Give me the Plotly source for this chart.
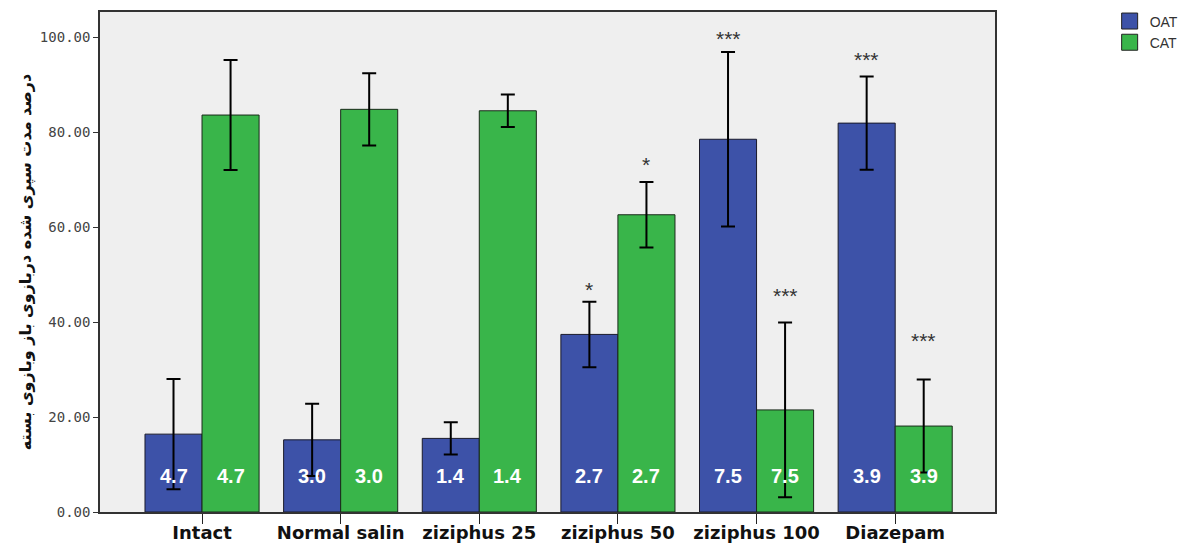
import plotly.graph_objects as go

# Groups and measured series (% of time spent in open / closed arms)
groups = ["Intact", "Normal salin", "ziziphus 25", "ziziphus 50", "ziziphus 100", "Diazepam"]
oat = [16.4, 15.2, 15.5, 37.4, 78.5, 81.9]
cat = [83.6, 84.8, 84.5, 62.6, 21.5, 18.1]
err = [11.6, 7.6, 3.4, 6.9, 18.4, 9.8]
se_labels = ["4.7", "3.0", "1.4", "2.7", "7.5", "3.9"]

# Significance marks: (group, series, text)
sig_marks = [
    ("ziziphus 50", "OAT", "*"),
    ("ziziphus 50", "CAT", "*"),
    ("ziziphus 100", "OAT", "***"),
    ("ziziphus 100", "CAT", "***"),
    ("Diazepam", "OAT", "***"),
    ("Diazepam", "CAT", "***"),
]
sig_y = [46.9, 73.1, 99.8, 45.5, 95.2, 36.2]

BLUE = "#3d52a8"
GREEN = "#39b54a"
BAR_HALF = 28.5  # pixel offset from group centre to each bar centre

fig = go.Figure()
for name, vals, col, edge in (("OAT", oat, BLUE, "#1a1a2a"), ("CAT", cat, GREEN, "#1a2a1a")):
    fig.add_trace(go.Bar(
        name=name, x=groups, y=vals, showlegend=False,
        marker=dict(color=col, line=dict(color=edge, width=1)),
        error_y=dict(type="data", array=err, color="black", thickness=2, width=7),
    ))
# Legend keys drawn as larger outlined squares
for name, col in (("OAT", BLUE), ("CAT", GREEN)):
    fig.add_trace(go.Scatter(
        name=name, x=[None], y=[None], mode="markers",
        marker=dict(symbol="square", size=16, color=col, line=dict(color="#222222", width=1)),
    ))

annotations = []
for g, lab in zip(groups, se_labels):
    for shift in (-BAR_HALF, BAR_HALF):
        annotations.append(dict(
            x=g, y=7.5, xref="x", yref="y", xshift=shift, text=lab,
            showarrow=False, yanchor="middle",
            font=dict(family="Liberation Sans, Arial", size=20, color="white", weight="bold"),
        ))
for (g, series, txt), yv in zip(sig_marks, sig_y):
    annotations.append(dict(
        x=g, y=yv, xref="x", yref="y",
        xshift=-BAR_HALF if series == "OAT" else BAR_HALF,
        text=txt, showarrow=False, yanchor="middle",
        font=dict(family="Liberation Sans, Arial", size=21, color="#333333"),
    ))

fig.update_layout(
    width=1183, height=544,
    margin=dict(l=100, r=188, t=12, b=32, autoexpand=False),
    barmode="group", bargap=0.177, bargroupgap=0,
    plot_bgcolor="#efefef", paper_bgcolor="white",
    annotations=annotations,
    legend=dict(
        xref="container", yref="container",
        x=0.938, y=0.99, xanchor="left", yanchor="top",
        font=dict(family="Liberation Sans, Arial", size=14, color="#333333"),
        tracegroupgap=0, itemwidth=30,
    ),
    xaxis=dict(
        type="category", range=[-0.736, 5.72], automargin=False,
        showline=True, linecolor="#333333", linewidth=1.5, mirror=True,
        ticks="outside", ticklen=10, tickcolor="#222222", tickwidth=1.2,
        ticklabelstandoff=-6,
        tickfont=dict(family="DejaVu Sans", size=18, color="#111111", weight="bold"),
        showgrid=False,
    ),
    yaxis=dict(
        range=[0, 105.3], automargin=False,
        tickvals=[0, 20, 40, 60, 80, 100], tickformat=".2f",
        showline=True, linecolor="#333333", linewidth=1.5, mirror=True,
        ticks="outside", ticklen=5, tickcolor="#333333",
        tickfont=dict(family="DejaVu Sans Mono", size=14, color="#444444"),
        showgrid=False, zeroline=False,
        title=dict(
            text="درصد مدت سپری شده دربازوی باز وبازوی بسته",
            font=dict(family="DejaVu Sans", size=16, color="#111111", weight="bold"),
            standoff=4,
        ),
    ),
)

fig.write_html("out.html")
